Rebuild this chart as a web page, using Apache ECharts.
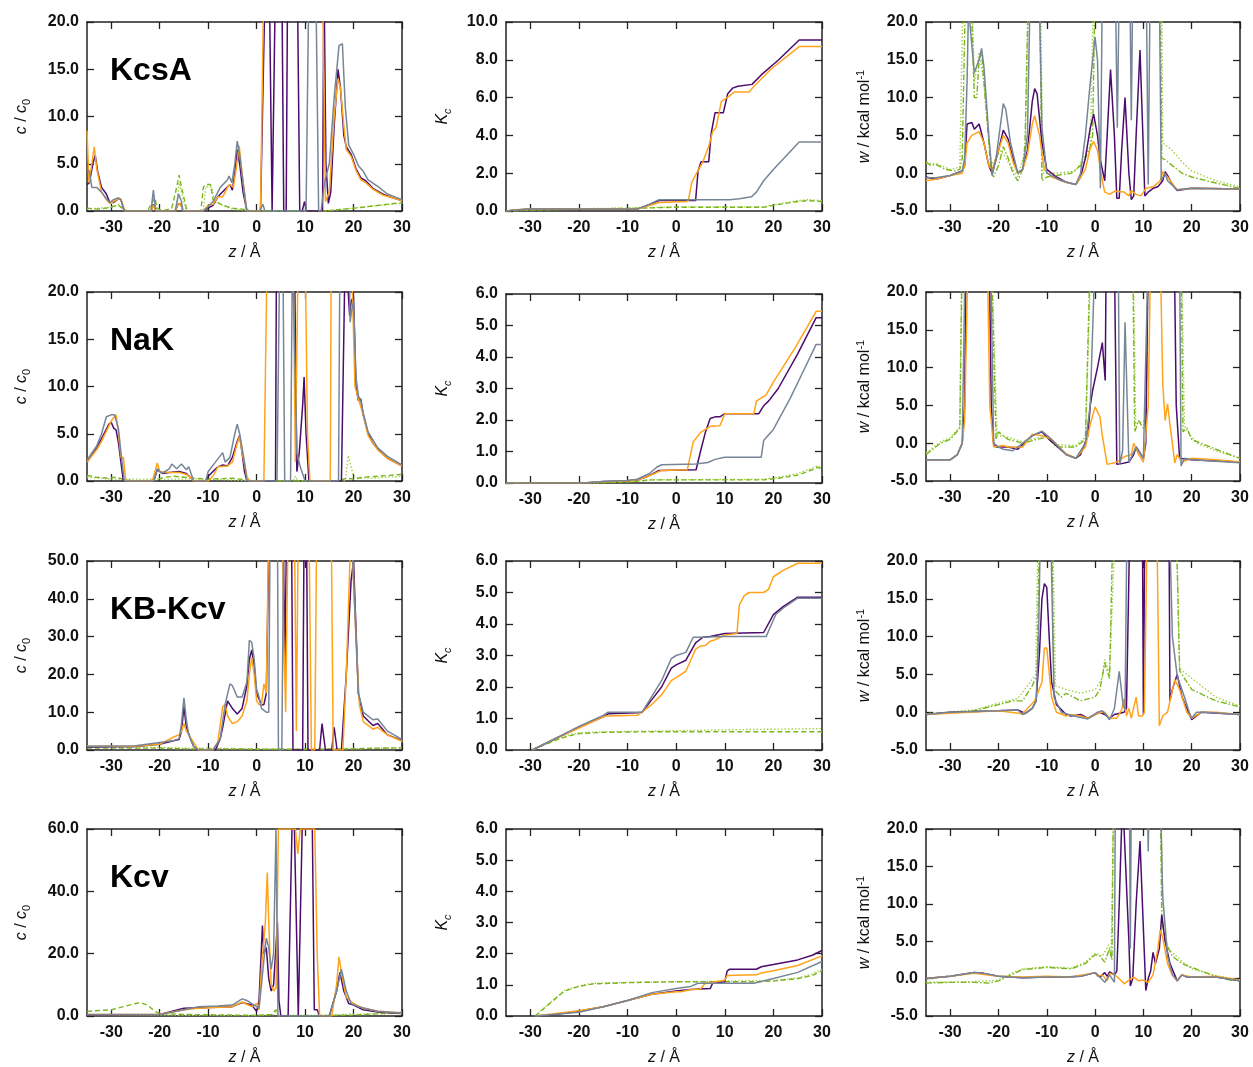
<!DOCTYPE html>
<html><head><meta charset="utf-8">
<script src="https://cdn.jsdelivr.net/npm/echarts@6/dist/echarts.min.js"></script>
<style>html,body{margin:0;padding:0;background:#fff}#c{width:1253px;height:1067px}</style>
</head><body><div id="c"></div>
<script>
// ---------- tick labels / categories ----------
const zTicks = [-30, -20, -10, 0, 10, 20, 30];
const proteins = ['KcsA', 'NaK', 'KB-Kcv', 'Kcv'];
const cMax = [20, 20, 50, 60], cStep = [5, 5, 10, 20];
const kMax = [10, 6, 6, 6], kStep = [2, 1, 1, 1];
const wMin = -5, wMax = 20, wStep = 5;

// ---------- KcsA : c/c0 ----------
const kcsaC_purple = [[-35,2.8],[-34.5,3.0],[-33.8,5.0],[-33.3,5.9],[-32.8,4.2],[-32,2.5],[-31,1.8],[-30.3,0.9],[-29.5,0.9],[-28.5,1.3],[-28,1.2],[-27.3,0],[-21.8,0],[-21.3,0.7],[-20.8,0],[-16.8,0],[-16.2,0.7],[-15.7,0.8],[-15.2,0],[-11,0],[-10,0.3],[-9,0.6],[-8,1.5],[-6.5,2.3],[-5.5,2.8],[-5,2.2],[-4.5,4],[-4,6.5],[-3.5,5.0],[-2.8,2],[-2,0],[0.8,0],[1.8,25],[2.6,25],[3.2,0],[3.5,0],[3.9,25],[5.2,25],[5.6,0],[6.1,0],[6.4,25],[8.4,25],[8.9,0],[9.4,0],[9.9,1],[10.3,0],[13.6,0],[13.9,25],[14.3,5],[14.8,0.8],[15.3,2],[16,9],[16.8,15],[17.3,13],[18,8],[18.5,6.8],[19.5,6],[20.5,4.5],[21.5,3.5],[22.5,3.2],[24,2.4],[26,1.8],[28,1.4],[30,1.1]];
const kcsaC_orange = [[-35,8.5],[-34.6,3],[-34,5],[-33.5,6.8],[-33,4.5],[-32,2],[-31,1.2],[-30.3,0.8],[-29.5,1],[-28.5,1.3],[-28,1.2],[-27.2,0],[-21.8,0],[-21.3,0.6],[-20.8,0],[-16.8,0],[-16.2,0.7],[-15.7,0.8],[-15.2,0],[-11,0],[-10,0.6],[-9,0.7],[-8,1.5],[-7,1.5],[-6,2.5],[-5.5,2.8],[-4.8,2.5],[-4.2,4.5],[-3.6,6.9],[-3,4],[-2.3,1],[-2,0],[0.8,0],[1.5,25],[13.6,25],[14.2,1],[15,2],[16,10],[16.8,14],[17.3,13],[18,9],[18.5,6.5],[19.5,5.8],[20.5,4.3],[21.5,3.3],[22.5,3],[24,2.3],[26,1.7],[28,1.4],[30,1.1]];
const kcsaC_gray = [[-35,4.3],[-34.5,4.2],[-34,2.5],[-33,2.5],[-32,2],[-31,1.3],[-30.3,0.9],[-29.5,1.2],[-28.5,1.4],[-28,1.2],[-27.3,0],[-21.8,0],[-21.3,2.2],[-20.8,0],[-16.8,0],[-16.1,1.8],[-15.5,1],[-15.2,0],[-11,0],[-10.3,0.3],[-9,1],[-7.5,2.5],[-6,3.3],[-5.7,3.7],[-5.1,3.0],[-4.5,5],[-4,7.4],[-3.5,6],[-2.8,3],[-2,0],[0.6,0],[1.3,0.7],[1.7,0],[10.2,0],[10.8,25],[12.2,25],[12.8,0],[13.3,0],[14.0,3],[15,5],[16,12],[17,17.5],[17.7,17.7],[18.3,11],[19,7],[20,6],[21,4.8],[22,4.2],[23,3.3],[25,2.6],[27,1.8],[30,1.2]];
const kcsaC_green1 = [[-35,0.3],[-33,0.2],[-31,0.3],[-29.5,0.5],[-28.5,0.6],[-27.5,0.2],[-26.5,0],[-22.5,0],[-21.5,1.0],[-21,1.4],[-20.5,0.3],[-19.5,0],[-17.5,0.3],[-16.5,2.5],[-16,3.8],[-15.5,2.5],[-14.5,0.3],[-13.5,0],[-11.5,0],[-11,2.5],[-10.5,2.8],[-9.5,2.8],[-9,1.2],[-8,0.9],[-7,0.6],[-5,0.3],[-3,0.2],[-1,0],[14,0],[18,0.2],[22,0.4],[26,0.65],[30,0.9]];
const kcsaC_green2 = [[-35,0.2],[-30,0.4],[-28.5,0.7],[-27,0],[-21.7,0],[-21.2,1.2],[-20.5,0],[-16.6,0],[-16,3.0],[-14.5,0],[-11,0],[-10.5,2.6],[-9.2,2.5],[-8.8,1.0],[-5,0.2],[-1,0],[14,0],[20,0.3],[25,0.6],[30,0.8]];

// ---------- KcsA : Kc ----------
const kcsaK_purple = [[-35,0],[-33,0.05],[-30,0.1],[-8,0.1],[-6,0.3],[-3.5,0.55],[4.0,0.55],[4.5,2.1],[5.1,2.6],[6.7,2.6],[7.2,4.1],[8.0,5.2],[9.7,5.2],[10.6,6.2],[11.6,6.5],[12.7,6.6],[15.6,6.7],[17.5,7.2],[21.1,8.0],[25.3,9.05],[30,9.05]];
const kcsaK_orange = [[-35,0],[-33,0.07],[-30,0.1],[-8,0.1],[-6,0.25],[-3.5,0.45],[2,0.5],[2.5,0.55],[3.2,1.5],[4.2,2.0],[5.5,2.6],[6.8,3.5],[7.5,4.2],[8.2,4.4],[9.3,5.8],[10.5,6.0],[12,6.3],[15,6.3],[16,6.6],[19.5,7.5],[25.3,8.7],[30,8.7]];
const kcsaK_gray = [[-35,0],[-33,0.05],[-30,0.1],[-8,0.1],[-6,0.3],[-3.5,0.6],[11,0.6],[13,0.65],[15.5,0.75],[16.5,1.0],[18,1.6],[20,2.2],[25.3,3.65],[30,3.65]];
const kcsaK_green1 = [[-35,0],[-30,0.05],[-20,0.1],[-8,0.15],[0,0.2],[18,0.2],[20,0.3],[25,0.5],[27,0.55],[30,0.5]];
const kcsaK_green2 = [[-35,0],[-30,0.06],[-20,0.12],[-8,0.16],[0,0.22],[18,0.22],[20,0.32],[25,0.55],[27,0.6],[30,0.55]];

// ---------- KcsA : w ----------
const kcsaW_purple = [[-35,-0.5],[-33,-0.8],[-30,-0.3],[-27.5,0.3],[-27,1],[-26.5,6.5],[-25.5,6.7],[-25,5.8],[-24,6.5],[-23,4],[-22,1],[-21.3,0],[-20,3],[-19,5.7],[-18,4.5],[-17,2],[-16,0],[-15,0.5],[-14,3],[-13,9.5],[-12.5,11.2],[-12,10.5],[-11,4],[-10,0.5],[-8,-0.5],[-6,-1.2],[-4,-1.5],[-3,-0.5],[-2,2],[-1,6],[-0.3,7.8],[0.5,5],[1,2],[2,-1],[2.5,5],[3.2,13.7],[4.0,5],[4.5,-3.3],[5,-3.3],[5.5,3],[6.2,10],[7,0],[7.5,-3.5],[8,-3],[8.5,5],[9.3,16.3],[10,3],[10.3,-3],[11,-2.5],[12,-2],[13,-1.8],[14,-1],[14.5,0.2],[15,-0.3],[16,-1.5],[17,-2.3],[20,-2],[30,-2.1]];
const kcsaW_orange = [[-35,-1],[-33,-0.8],[-30,-0.3],[-27.5,0],[-27,1],[-26.5,4],[-25.5,5],[-24,5.5],[-23,4],[-22,1],[-21.3,0.5],[-20,3],[-19,5],[-18,4],[-17,1.5],[-16,0],[-15,0.5],[-14,2.5],[-13,6.5],[-12.5,7.6],[-11.5,5],[-10.5,0.5],[-9,-0.5],[-6,-1.2],[-4,-1.5],[-2,0.5],[-1,3.3],[-0.3,4.2],[0.5,3],[1.5,-1],[2,-2.5],[3,-2.8],[4,-2.4],[6,-2.5],[7,-3],[7.5,-2.3],[8.5,-2.8],[9.5,-3],[10.5,-2],[12,-1.8],[13.5,-1],[14,0.2],[15,-0.5],[17,-2.2],[20,-2],[30,-2.1]];
const kcsaW_gray = [[-35,-0.6],[-33,-0.6],[-30,-0.3],[-27.5,0.3],[-27,2],[-26.5,12],[-26.2,22],[-25.8,19],[-25,13.3],[-24,15],[-23.5,16.5],[-23,14],[-22,5],[-21.3,-0.3],[-20.5,2],[-19,9.2],[-18.5,8.5],[-17.5,4],[-16,0],[-15,0.5],[-14,5],[-13.5,22],[-11.5,22],[-11,6],[-10,0],[-7,-1],[-4,-1.5],[-3,0],[-2,5],[-1,12],[0,18],[0.5,15],[1.1,-2],[1.5,25],[4.2,25],[4.6,6],[5.0,25],[7.2,25],[7.5,7],[7.8,25],[10.6,25],[11,-1.5],[11.4,25],[13.3,25],[13.7,-1],[14.5,0],[15,-1],[17,-2.2],[20,-2],[30,-2.1]];
const kcsaW_green1 = [[-35,1.5],[-34,1],[-33,1.2],[-31,0.5],[-29,0.3],[-28,0.5],[-27.5,2],[-26.8,25],[-25.5,20],[-25,10],[-24.5,10],[-24,15],[-23.5,16],[-22.5,8],[-21.5,0],[-21,-0.5],[-20,1],[-19,3.5],[-18,2],[-17,0],[-16,-1],[-15,0.5],[-14.5,4],[-13.8,25],[-11.5,25],[-11,-1],[-10,-0.5],[-8,-0.3],[-5,0],[-3,1],[-2,2],[-1,3.5],[-0.5,5],[0,25],[13.5,25],[13.8,2],[14.5,1.8],[16,1],[18,0],[20,-0.5],[25,-1.3],[30,-2]];
const kcsaW_green2 = [[-35,1.3],[-33,1.3],[-30,0.5],[-28,0.8],[-27.3,25],[-25.5,25],[-25,12],[-24,16],[-23,12],[-21.5,1],[-19.5,3],[-17,0.5],[-16,-0.5],[-14.5,3],[-13.7,25],[-11.3,25],[-10.8,0],[-8,0],[-4,0.3],[-1,3.5],[-0.3,25],[13.8,25],[14,4],[15,3.5],[16,3],[18,1.5],[20,0.3],[25,-1],[30,-1.8]];

// ---------- NaK : c/c0 ----------
const nakC_purple = [[-35,2],[-33,3.5],[-32,4.5],[-30.5,6.0],[-30,6.2],[-29.5,5.6],[-29,5.4],[-28.5,4],[-28,2],[-27.5,0],[-21.2,0],[-20.5,1.2],[-19.5,0.8],[-18,0.9],[-16,1],[-14.5,0.8],[-13.5,0.3],[-13,0],[-10.5,0],[-10,0.5],[-8,1.5],[-7,1.7],[-6,1.6],[-5,2.5],[-4,4.2],[-3.5,4.8],[-3,3],[-2.5,1],[-2,0],[3.9,0],[4.1,25],[7.8,25],[8.3,1],[8.8,3],[9.5,8],[9.8,11],[10.2,5],[10.8,0],[17.5,0],[18.3,25],[19.2,17.5],[19.5,19],[20,19.5],[20.5,10],[21,8.5],[21.5,8.7],[22,7],[23,5],[24,4],[25,3.4],[27,2.4],[30,1.6]];
const nakC_orange = [[-35,2],[-33,3.3],[-32,4.2],[-30.5,5.8],[-29.8,6.5],[-29,7],[-28.5,5],[-28,2.5],[-27.5,2.5],[-27,0],[-21.5,0],[-20.5,1.9],[-20,1],[-18,0.9],[-16,0.9],[-14.5,0.7],[-13.5,0.3],[-13,0],[-10,0],[-9,0.5],[-8,1.5],[-6,1.6],[-5,2],[-4,4],[-3.5,4.7],[-3,3],[-2,0.5],[-1.5,0],[1.5,0],[2.2,25],[7.5,25],[8.0,2],[8.6,25],[10,25],[10.5,5],[11,0],[15.2,0],[15.4,25],[19.5,25],[20.3,10],[21,8.7],[22,7],[23,4.8],[24,4],[25,3.3],[27,2.4],[30,1.6]];
const nakC_gray = [[-35,2.2],[-33,3.7],[-32,5],[-31,6.8],[-30,7],[-29.3,7],[-28.5,5.5],[-28,3],[-27.3,0],[-21.2,0],[-20.5,1.3],[-19.5,0.8],[-18,1.3],[-17.5,1.8],[-16.5,1.3],[-15.5,1.8],[-14.5,1.2],[-14,1.5],[-13,0],[-10.5,0],[-10,1],[-8.5,2],[-7,3],[-6.5,2],[-5.5,2.5],[-4.5,5],[-4,6],[-3.5,5],[-2.5,2],[-2,0],[4.2,0],[4.8,25],[5.4,25],[5.8,0],[7,0],[7.4,25],[7.8,25],[8.3,3],[9,1.5],[10,0],[16.9,0],[17.2,25],[19,25],[19.3,16.8],[19.6,18],[20,19],[20.5,11],[21,9],[21.5,8.5],[22,7.2],[23,5.2],[25,3.5],[27,2.6],[30,1.7]];
const nakC_green1 = [[-35,0.6],[-33,0.4],[-31,0.3],[-29,0.4],[-27,0.1],[-24,0],[-21,0.1],[-19,0.4],[-17,0.5],[-15,0.4],[-13,0.3],[-10,0.2],[-5,0.3],[-2,0.1],[0,0],[17,0],[18.5,0.3],[20,0.2],[22,0.4],[25,0.5],[30,0.7]];
const nakC_green2 = [[-35,0.4],[-30,0.2],[-20,0.2],[-10,0.2],[0,0],[7.5,0],[8,0.5],[8.5,0],[18.3,0],[18.9,2.7],[19.5,1.5],[20,0.5],[21,0.3],[24,0.3],[30,0.5]];

// ---------- NaK : Kc ----------
const nakK_purple = [[-35,0],[-19,0],[-15,0.05],[-10,0.07],[-8,0.1],[-6,0.2],[-3.5,0.4],[4.1,0.42],[5,1.0],[6,1.6],[7,2.05],[8,2.1],[9,2.1],[10,2.2],[17,2.2],[18,2.45],[19,2.6],[21,3.0],[25,4.1],[28.8,5.25],[30,5.25]];
const nakK_orange = [[-35,0],[-19,0],[-15,0.04],[-10,0.06],[-8,0.1],[-6,0.2],[-3,0.4],[2.3,0.42],[3.5,1.3],[5,1.6],[7,1.8],[9,1.82],[10,2.2],[16,2.2],[16.5,2.6],[18.5,2.8],[20,3.2],[24.5,4.3],[28.8,5.45],[30,5.45]];
const nakK_gray = [[-35,0],[-19,0],[-15,0.05],[-10,0.08],[-8,0.12],[-5.5,0.3],[-4,0.5],[-3,0.58],[4,0.6],[6.5,0.65],[8,0.75],[10,0.82],[17.5,0.82],[18,1.35],[20,1.7],[23.5,2.7],[26,3.5],[28.8,4.4],[30,4.4]];
const nakK_green1 = [[-35,0],[-18,0],[-10,0.03],[-5,0.1],[18,0.1],[21,0.15],[25,0.25],[28.5,0.45],[29,0.5],[30,0.45]];
const nakK_green2 = [[-35,0],[-18,0],[-10,0.04],[-5,0.1],[18,0.12],[21,0.18],[25,0.3],[28.5,0.5],[29,0.55],[30,0.5]];

// ---------- NaK : w ----------
const nakW_purple = [[-35,-2.2],[-30,-2.2],[-28.5,-1.5],[-27.5,0],[-27,5],[-26.7,25],[-22,25],[-21.8,20],[-21.5,5],[-21,0],[-20.5,-0.5],[-19,-0.5],[-18,-0.5],[-16,-0.8],[-13,1],[-11,1.5],[-10,0.8],[-6,-1.5],[-4,-2],[-3,-1.5],[-1.5,1],[-1,5],[-0.5,7],[0.5,10],[1.5,13.3],[2.1,8.3],[2.3,25],[4.0,25],[4.5,-2.8],[5.5,-2.7],[7,-2.5],[8,-1.5],[8.5,-0.5],[9,-1],[10,-2],[10.5,0],[11,25],[16.4,25],[16.8,5],[17.5,-2],[20,-2.2],[30,-2.5]];
const nakW_orange = [[-35,-2.2],[-30,-2.2],[-28.5,-1.5],[-27.5,0],[-27,3],[-26.3,25],[-22.3,25],[-21.8,5],[-21,-0.5],[-19,-0.3],[-18,-0.5],[-15,-0.5],[-13,1.2],[-11,1],[-9,0.5],[-6,-1.4],[-4,-2],[-2,-0.5],[-1,2.5],[0,4.8],[1,3.5],[1.5,1],[2.5,-2.8],[4,-2.6],[5,-2.3],[6,-1.8],[7.5,-1.5],[8,0],[9,-1.5],[10,-2.5],[11,5],[11.5,25],[13.5,25],[14,8],[14.5,3],[15,5.2],[15.5,2.5],[16.5,-2.6],[17,-1.5],[18,-2.5],[20,-2],[25,-2.2],[30,-2.5]];
const nakW_gray = [[-35,-2.2],[-30,-2.2],[-28.5,-1.5],[-27.5,0],[-27,20],[-26.9,25],[-21.7,25],[-21.5,20],[-21,0],[-20,-0.5],[-19,-0.8],[-17,-1],[-13,1],[-11,1.6],[-9,0.5],[-6,-1.5],[-4,-2],[-2,0],[-1,5],[0,25],[4.8,25],[5.1,-2.8],[5.7,-1],[6.2,16],[7,-2.5],[8.5,-0.5],[10,-2],[11,25],[17.5,25],[17.8,-3],[18.5,-2],[20,-2.2],[30,-2.6]];
const nakW_green1 = [[-35,-1.5],[-32,0],[-30,0.5],[-28,2],[-27.5,25],[-21.5,25],[-20.5,0.5],[-20,1.5],[-18,0.5],[-15,0],[-12,0.5],[-10,0.8],[-8,-0.5],[-4,-0.5],[-2,0.5],[-1,25],[7.8,25],[8.2,1.5],[9,3],[10,2],[10.5,3],[11,25],[17.8,25],[18.2,1.5],[19,2],[20,0.5],[25,-0.8],[30,-2]];
const nakW_green2 = [[-35,-1.3],[-32,0.2],[-30,0.7],[-28,2.2],[-27.6,25],[-21.4,25],[-20.3,1],[-18,0.8],[-15,0.2],[-10,1],[-8,-0.2],[-4,-0.3],[-2,0.8],[-0.8,25],[7.9,25],[8.4,2.5],[9.5,2.8],[10.5,3],[11,25],[17.9,25],[18.5,2.3],[19.5,1.2],[21,0],[25,-1],[30,-2]];

// ---------- KB-Kcv : c/c0 ----------
const kbC_purple = [[-35,0.8],[-25,0.9],[-20,1.5],[-17,2.5],[-16,2.8],[-15.5,5],[-15,11.5],[-14.5,6],[-13.5,2.5],[-13,1],[-12,0],[-8.5,0],[-7.5,3],[-7,6],[-6,13],[-5,11],[-4,9.5],[-3,11],[-2,17],[-1.5,24],[-1,26.5],[-0.5,22],[0,15],[0.3,15.5],[1,12],[1.5,12],[2,15],[2.6,60],[5.5,60],[5.8,20],[6.2,60],[7.2,60],[7.5,0],[9.5,0],[9.8,60],[10.3,60],[10.6,0],[13,0],[13.5,7],[14.2,0],[15.5,0],[16,6],[16.6,0],[17.5,0],[18.5,20],[19.5,45],[20,50],[21,15],[22,9],[24,6.5],[25,7],[27,4],[30,2.5]];
const kbC_orange = [[-35,1],[-25,1],[-20,1.5],[-17,3.5],[-16,4],[-15.5,5],[-15,7],[-14.5,5],[-13,2],[-12,0],[-9,0],[-8,2],[-7,11.5],[-6.5,12],[-6,9],[-5,7],[-4,7.5],[-3,9],[-2,13],[-1.5,20],[-1,24.5],[-0.5,20],[0,13],[0.5,12],[1,12],[1.5,17.5],[2,15],[2.5,60],[5.3,60],[5.6,30],[6,10],[6.5,60],[7.8,60],[8.2,5],[8.6,60],[10.8,60],[11.3,0],[12,0],[12.4,60],[15.4,60],[15.8,0],[17.8,0],[18.5,20],[19.5,60],[20.5,30],[21.2,12],[22,7.5],[24,5.5],[25,6],[27,4],[30,2.3]];
const kbC_gray = [[-35,1],[-25,1.1],[-20,2],[-17,2.5],[-16,3],[-15.5,7],[-15,13.8],[-14.5,8],[-14,4],[-13,1],[-12,0],[-9,0],[-7.5,3],[-6.5,12],[-5.5,17.5],[-5,17],[-4,14],[-3,14],[-2,18],[-1.5,29],[-1,28.5],[-0.5,24],[0,16],[0.5,14],[1,11],[2,10],[2.5,10],[2.8,60],[4.3,60],[4.5,0],[5.2,0],[5.6,60],[19.5,60],[20.5,30],[21,15],[22,10],[24,8],[25,8.2],[27,5],[30,2.8]];
const kbC_green1 = [[-35,0.5],[-20,0.5],[-15,0.3],[-10,0.3],[-5,0.3],[0,0.2],[10,0.2],[20,0.3],[25,0.5],[30,0.6]];
const kbC_green2 = [[-35,0.8],[-20,0.7],[-15,0.5],[-10,0.5],[0,0.3],[10,0.2],[20,0.4],[30,0.5]];

// ---------- KB-Kcv : Kc ----------
const kbK_purple = [[-29.6,0],[-25,0.35],[-20,0.72],[-15,1.05],[-14,1.15],[-8,1.18],[-7,1.2],[-5,1.6],[-3,2.0],[-1,2.6],[0,2.7],[2,2.85],[4,3.4],[5.5,3.58],[7,3.6],[10,3.7],[18,3.73],[20,4.3],[22,4.55],[25,4.85],[30,4.85]];
const kbK_orange = [[-29.6,0],[-25,0.35],[-20,0.7],[-15,1.05],[-14.5,1.08],[-8,1.1],[-7,1.2],[-5,1.45],[-3,1.75],[-1,2.2],[0,2.3],[2,2.5],[4,3.2],[5,3.3],[6,3.32],[7,3.45],[8,3.5],[10,3.65],[12.5,3.7],[13,4.6],[14,4.9],[15,5.0],[18,5.0],[19,5.1],[20,5.5],[22,5.7],[25,5.93],[30,5.93]];
const kbK_gray = [[-29.6,0],[-25,0.35],[-20,0.75],[-15,1.1],[-14,1.2],[-7,1.2],[-5,1.7],[-3,2.2],[-1,2.9],[0,3.0],[2,3.1],[3.5,3.58],[5,3.58],[10,3.6],[18.5,3.6],[20.5,4.3],[22,4.5],[25,4.82],[30,4.82]];
const kbK_green1 = [[-29.6,0],[-25,0.3],[-22,0.45],[-20,0.52],[-15,0.56],[-5,0.58],[10,0.58],[30,0.58]];
const kbK_green2 = [[-29.6,0],[-25,0.32],[-22,0.48],[-20,0.55],[-15,0.58],[-5,0.6],[10,0.64],[30,0.68]];

// ---------- KB-Kcv : w ----------
const kbW_purple = [[-35,-0.3],[-30,0],[-20,0.2],[-16,0.3],[-15,0],[-14.5,-0.2],[-13,0.5],[-12.2,1.5],[-11.5,8],[-11,15],[-10.5,17],[-10,16.5],[-9.5,10],[-9,4],[-8,1],[-6,-0.3],[-5,-0.5],[-3,-0.3],[-1.5,-0.8],[0,-0.3],[1,0],[2,-0.3],[3,-0.8],[4,-0.3],[6,0],[6.5,0.5],[7.2,25],[9.8,25],[10,-0.3],[10.3,25],[15.3,25],[15.5,1.5],[16,3],[17,5],[18,2],[20,-1],[22,0],[30,-0.3]];
const kbW_orange = [[-35,-0.3],[-20,0.2],[-15,-0.2],[-12.5,1.5],[-11,4],[-10.5,8.5],[-10,8.5],[-9,2],[-8,0],[-6,-0.5],[-5,-0.3],[-3,-0.5],[-1.5,-0.8],[0,-0.3],[1,0],[2,0],[3,-0.8],[4.5,-0.8],[5.5,0.3],[6,1.8],[6.5,-0.5],[7,0.5],[7.5,-0.8],[8.5,2],[9,-0.5],[9.8,-0.5],[10.2,0],[10.8,25],[12.8,25],[13.3,-1.8],[14,-0.5],[15,0],[16.5,4.3],[17.5,3],[19,0],[20,-0.8],[22,0],[25,0],[30,-0.3]];
const kbW_gray = [[-35,-0.3],[-30,0],[-20,0.2],[-16,0.3],[-15,-0.3],[-14,0],[-13,0.5],[-12.2,1.5],[-11.7,10],[-11.3,25],[-9.2,25],[-8.5,2],[-7,0],[-5,-0.4],[-1.5,-0.9],[0.5,0],[1.5,0.2],[2.5,-0.5],[3,-1],[4,0.5],[5,5.4],[5.8,1],[6.2,0.3],[6.6,25],[15.4,25],[16,10],[17,4.8],[18.5,2],[19.5,0],[20,-0.8],[21,0],[23,0],[30,-0.3]];
const kbW_green1 = [[-35,-0.3],[-25,0.2],[-20,1],[-17,1.5],[-15,1.5],[-13,3.5],[-12,5],[-11.5,25],[-9,25],[-8.5,3],[-7,2],[-6,2.5],[-3,1.5],[0,2],[1,3],[2,6.5],[3,4.5],[3.7,25],[16.8,25],[17.5,5.5],[20,3],[25,1.5],[30,0.7]];
const kbW_green2 = [[-35,-0.2],[-25,0.3],[-20,1.2],[-16,1.8],[-14,3.5],[-12.3,5],[-11.8,25],[-8.8,25],[-8.2,3.5],[-6,3],[-3,2.5],[0,3],[1.5,4.5],[2,7],[3,5],[4.2,25],[16.8,25],[17.5,5.8],[20,4.5],[25,2],[30,0.8]];

// ---------- Kcv : c/c0 ----------
const kcvC_purple = [[-35,0.3],[-20,0.5],[-15,2.5],[-10,2.7],[-5,3],[-3,4.3],[-1,3.5],[0,1.5],[0.5,5],[1.2,29],[1.5,20],[2,22],[2.5,12],[3,8],[3.5,10],[4.3,30],[4.6,5],[5,0],[6.5,0],[7.3,60],[7.8,60],[8.6,0],[9.4,60],[11.5,60],[11.9,2],[12.5,2],[13,0],[15,0],[16.5,8],[17.2,14],[18,8],[19,4],[20,3.5],[22,2],[25,1.3],[30,0.8]];
const kcvC_orange = [[-35,0.5],[-20,0.5],[-15,2],[-12,2.5],[-5,3],[-3,4.5],[-1,3],[0,4],[0.5,2],[1,15],[1.8,30],[2.2,46],[2.5,30],[3,10],[3.5,8],[4,9],[4.5,60],[8,60],[8.5,52],[9,60],[12,60],[12.5,20],[13,0],[15.5,0],[16.5,10],[17,19],[17.5,14],[18.5,6],[20,4],[22,2.5],[25,1.5],[30,1]];
const kcvC_gray = [[-35,0.5],[-20,0.5],[-18,1],[-15,2],[-12,3],[-8,3.2],[-5,3.5],[-3,5.5],[-2,5],[-1,4],[0,3],[0.5,2.5],[1,10],[1.5,18],[2,25],[2.5,22],[3,15],[3.5,20],[4,60],[4.3,60],[4.4,0],[15,0],[16.5,8],[17.5,15],[18.5,8],[19.5,4],[21,3],[25,1.5],[30,1]];
const kcvC_green1 = [[-35,1.5],[-30,2],[-25,4],[-24,4.3],[-22.5,3.5],[-21,1.5],[-20,0.8],[-15,0.5],[-5,0.3],[0,0.2],[3,0.5],[4,2],[4.5,0],[10,0.1],[15,0.2],[20,0.3],[25,0.7],[30,1.2]];
const kcvC_green2 = [[-35,0.3],[-25,0.3],[-20,0.3],[-10,0.2],[0,0.1],[3.5,0.5],[4,1.5],[4.5,0.2],[15,0.3],[20,0.6],[30,0.8]];

// ---------- Kcv : Kc ----------
const kcvK_purple = [[-29,0],[-25,0.05],[-20,0.15],[-15,0.3],[-10,0.5],[-5,0.7],[0,0.8],[1,0.82],[3,0.85],[5,0.87],[7,0.88],[7.5,1.05],[8,1.05],[10,1.1],[10.5,1.45],[11,1.5],[16.5,1.5],[17.5,1.58],[20,1.65],[25,1.8],[28,1.95],[30,2.1]];
const kcvK_orange = [[-29,0],[-20,0.17],[-15,0.3],[-10,0.5],[-5,0.7],[0,0.78],[1,0.78],[3,0.85],[5,0.87],[6,1.05],[8,1.1],[10,1.15],[10.5,1.3],[16.5,1.32],[17.5,1.38],[20,1.45],[25,1.62],[30,1.93]];
const kcvK_gray = [[-29,0],[-20,0.12],[-15,0.3],[-10,0.5],[-5,0.75],[0,0.88],[3,0.95],[4.5,1.05],[10,1.05],[16,1.05],[20,1.2],[25,1.4],[30,1.75]];
const kcvK_green1 = [[-29,0],[-26,0.4],[-23,0.8],[-20,0.95],[-17,1.03],[-10,1.07],[0,1.1],[10,1.1],[16,1.1],[20,1.12],[25,1.2],[28,1.3],[30,1.45]];
const kcvK_green2 = [[-29,0],[-26,0.42],[-23,0.82],[-20,0.97],[-17,1.05],[-10,1.08],[0,1.1],[10,1.12],[20,1.14],[25,1.22],[28,1.35],[30,1.5]];

// ---------- Kcv : w ----------
const kcvW_purple = [[-35,0],[-30,0.3],[-25,0.8],[-23,0.7],[-20,0.3],[-15,0.1],[-10,0.2],[-6,0.2],[-3,0.3],[0,0.8],[0.3,1],[1,0.2],[2,0.8],[2.5,0.3],[3,0.9],[4,0.5],[4.5,1],[5,10],[5.5,20.5],[6,20],[7,5],[7.3,-1],[7.8,0],[8.5,10],[9.3,18.4],[9.8,10],[10.5,-1.6],[11,0],[11.5,1],[12,3.5],[12.5,2],[13.3,4],[13.8,8.5],[14.5,5],[15.5,2],[17,-0.3],[18,0.5],[19,0.2],[25,0.2],[30,-0.3]];
const kcvW_orange = [[-35,0],[-30,0.3],[-25,0.7],[-20,0.3],[-15,0.2],[-10,0.3],[-5,0.2],[0,0.8],[0.5,0.3],[1.5,0.5],[2.5,-0.3],[3,0.7],[4,0.5],[5,0],[6,-0.7],[7,-0.2],[8,0.2],[9,-0.3],[10,-0.2],[11,-0.5],[12,0.5],[13,4],[13.5,6.5],[14,5.5],[15,2],[16,0.5],[17,-0.3],[18,0.5],[20,0.2],[25,0.3],[30,-0.2]];
const kcvW_gray = [[-35,0],[-30,0.3],[-25,0.8],[-23,0.7],[-20,0.3],[-15,0.1],[-10,0.2],[-6,0.2],[-3,0.3],[0,0.8],[0.3,1],[1,0.2],[2,-0.5],[3,0.5],[4,-0.5],[4.2,25],[7.1,25],[7.3,4],[7.5,25],[10.8,25],[11,17],[11.2,25],[13.5,25],[14,11],[14.5,7],[15,3],[16,0.5],[17,-0.3],[18,0.5],[19,0.2],[25,0.2],[30,-0.3]];
const kcvW_green1 = [[-35,-0.6],[-30,-0.5],[-25,-0.5],[-22,-0.6],[-20,-0.3],[-18,0.3],[-15,1.2],[-10,1.5],[-5,1.3],[-2,2],[0,3.2],[1,3],[2,2.2],[3,4],[3.5,2.5],[3.8,25],[13.5,25],[13.8,8],[14.5,5],[16,3],[18,2],[20,1.5],[25,0.3],[28,-0.2],[30,-0.3]];
const kcvW_green2 = [[-35,-0.5],[-25,-0.4],[-20,-0.2],[-18,0.5],[-15,1.3],[-10,1.6],[-5,1.4],[-2,2.2],[0,3.4],[1.5,3],[2.8,4.5],[3.3,3],[3.9,25],[13.6,25],[14,10],[15,4],[16,3.5],[18,2.3],[20,1.3],[25,0.4],[30,-0.2]];

// ---------- assemble ----------
const panelData = [
  [[kcsaC_purple,kcsaC_orange,kcsaC_gray,kcsaC_green1,kcsaC_green2],[kcsaK_purple,kcsaK_orange,kcsaK_gray,kcsaK_green1,kcsaK_green2],[kcsaW_purple,kcsaW_orange,kcsaW_gray,kcsaW_green1,kcsaW_green2]],
  [[nakC_purple,nakC_orange,nakC_gray,nakC_green1,nakC_green2],[nakK_purple,nakK_orange,nakK_gray,nakK_green1,nakK_green2],[nakW_purple,nakW_orange,nakW_gray,nakW_green1,nakW_green2]],
  [[kbC_purple,kbC_orange,kbC_gray,kbC_green1,kbC_green2],[kbK_purple,kbK_orange,kbK_gray,kbK_green1,kbK_green2],[kbW_purple,kbW_orange,kbW_gray,kbW_green1,kbW_green2]],
  [[kcvC_purple,kcvC_orange,kcvC_gray,kcvC_green1,kcvC_green2],[kcvK_purple,kcvK_orange,kcvK_gray,kcvK_green1,kcvK_green2],[kcvW_purple,kcvW_orange,kcvW_gray,kcvW_green1,kcvW_green2]]
];

const FONT = '"Liberation Sans", Arial, sans-serif';
const colLeft = [87, 506, 926], colW = [315, 316, 314];
const rowTop = [22, 292, 561, 829], rowH = 189;
const COL = {purple:'#4b0c6e', orange:'#ffa31a', gray:'#768697', g1:'#7cb51c', g2:'#a2d147'};
const frame = {show:true, onZero:false, lineStyle:{color:'#222', width:1.5}};
const tick = {show:true, inside:true, length:7, lineStyle:{color:'#222', width:1.3}};
const lblStyle = {color:'#111', fontFamily:FONT, fontSize:16, fontWeight:'bold'};
const nameBase = {color:'#111', fontFamily:FONT, fontSize:16};
const richDef = {
  i:{fontStyle:'italic', fontFamily:FONT, fontSize:16, color:'#111', lineHeight:20},
  n:{fontFamily:FONT, fontSize:16, color:'#111', lineHeight:20},
  sub:{fontStyle:'italic', fontFamily:FONT, fontSize:11, color:'#111', verticalAlign:'bottom', lineHeight:11},
  sub0:{fontFamily:FONT, fontSize:11, color:'#111', verticalAlign:'bottom', lineHeight:11},
  sup:{fontFamily:FONT, fontSize:11, color:'#111', verticalAlign:'top', lineHeight:11}
};

const grids = [], xAxes = [], yAxes = [], series = [], graphics = [];
for (let r = 0; r < 4; r++) {
  for (let c = 0; c < 3; c++) {
    const gi = grids.length;
    const top = (r === 1 && c === 1) ? rowTop[r] + 2 : rowTop[r];
    grids.push({left: colLeft[c], top: top, width: colW[c], height: rowH, show:false});
    xAxes.push({type:'value', gridIndex:gi, position:'bottom', min:-35, max:30,
      axisLine:frame, axisTick:Object.assign({customValues:zTicks}, tick),
      axisLabel:Object.assign({customValues:zTicks, margin:9}, lblStyle), splitLine:{show:false},
      name:'{i|z}{n| / Å}', nameLocation:'middle', nameGap:32, nameTextStyle:Object.assign({rich:richDef}, nameBase)});
    xAxes.push({type:'value', gridIndex:gi, position:'top', min:-35, max:30,
      axisLine:frame, axisTick:Object.assign({customValues:zTicks}, tick),
      axisLabel:{show:false}, splitLine:{show:false}});
    let ymin, ymax, step, yname, gap;
    if (c === 0) { ymin = 0; ymax = cMax[r]; step = cStep[r]; yname = '{i|c}{n| / }{i|c}{sub0|0}'; gap = 55; }
    else if (c === 1) { ymin = 0; ymax = kMax[r]; step = kStep[r]; yname = '{i|K}{sub|c}'; gap = 53; }
    else { ymin = wMin; ymax = wMax; step = wStep; yname = '{i|w}{n| / kcal mol}{sup|-1}'; gap = 51; }
    yAxes.push({type:'value', gridIndex:gi, position:'left', min:ymin, max:ymax, interval:step,
      axisLine:frame, axisTick:tick,
      axisLabel:Object.assign({formatter:v => v.toFixed(1), margin:8}, lblStyle), splitLine:{show:false},
      name:yname, nameLocation:'middle', nameGap:gap, nameTextStyle:Object.assign({rich:richDef}, nameBase)});
    yAxes.push({type:'value', gridIndex:gi, position:'right', min:ymin, max:ymax, interval:step,
      axisLine:frame, axisTick:tick, axisLabel:{show:false}, splitLine:{show:false}});
    const d = panelData[r][c];
    const g1Type = c === 2 ? [6,2,1.5,2] : [5,3];
    const specs = [
      {data:d[4], color:COL.g2, type:[1.5,2], w:1.4},
      {data:d[3], color:COL.g1, type:g1Type, w:1.4},
      {data:d[0], color:COL.purple, type:'solid', w:1.5},
      {data:d[1], color:COL.orange, type:'solid', w:1.5},
      {data:d[2], color:COL.gray, type:'solid', w:1.5}
    ];
    specs.forEach(s => series.push({type:'line', xAxisIndex:2*gi, yAxisIndex:2*gi, data:s.data,
      showSymbol:false, symbol:'none', clip:true, silent:true,
      lineStyle:{color:s.color, width:s.w, type:s.type}}));
  }
  graphics.push({type:'text', left:110, top:rowTop[r] + 33,
    style:{text:proteins[r], font:'bold 32px ' + FONT, fill:'#000'}});
}

const chart = echarts.init(document.getElementById('c'), null, {renderer:'canvas'});
chart.setOption({animation:false, backgroundColor:'#fff', grid:grids, xAxis:xAxes, yAxis:yAxes, series:series, graphic:graphics});
</script></body></html>
